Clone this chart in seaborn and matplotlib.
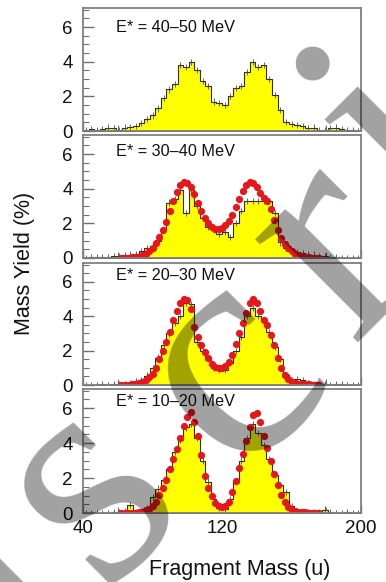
import numpy as np
import pandas as pd
import matplotlib
matplotlib.use("Agg")
import matplotlib.pyplot as plt
import seaborn as sns
from matplotlib.ticker import MultipleLocator, FixedLocator

sns.set_theme(style="white")
plt.rcParams['font.family'] = ['Liberation Sans', 'DejaVu Sans']

# ---- data -------------------------------------------------------------
energy_labels = ["E* = 40\u201350 MeV", "E* = 30\u201340 MeV",
                 "E* = 20\u201330 MeV", "E* = 10\u201320 MeV"]

# measured mass distributions, 50 bins of 3.2 u between 40 and 200 u
mass_edges = np.linspace(40, 200, 51)
yield_40_50 = [0.05, 0.1, 0.05, 0.1, 0.2, 0.15, 0.05, 0.2, 0.25, 0.3,
               0.45, 0.7, 0.9, 1.3, 1.9, 2.4, 2.7, 3.8, 3.7, 4.0,
               3.5, 2.9, 2.6, 1.7, 1.6, 1.5, 2.0, 2.5, 2.6, 3.4,
               4.0, 3.7, 3.8, 3.0, 2.1, 1.2, 0.5, 0.4, 0.35, 0.3,
               0.15, 0.2, 0.05, 0.05, 0.15, 0.2, 0.1, 0.05, 0.05, 0.02]
yield_30_40 = [0.02, 0.05, 0.05, 0.05, 0.05, 0.1, 0.1, 0.15, 0.2, 0.25,
               0.4, 0.55, 0.7, 1.0, 1.6, 3.2, 3.4, 3.9, 2.6, 3.9,
               3.0, 2.3, 1.8, 1.6, 1.4, 1.5, 1.2, 2.0, 2.7, 3.3,
               3.3, 3.3, 3.3, 3.3, 2.6, 0.9, 0.6, 0.4, 0.35, 0.3,
               0.2, 0.2, 0.1, 0.1, 0.05, 0.05, 0.02, 0.02, 0.02, 0.02]
yield_20_30 = [0.02, 0.02, 0.02, 0.05, 0.02, 0.05, 0.05, 0.05, 0.1, 0.2,
               0.3, 0.55, 1.0, 1.6, 2.3, 3.0, 3.6, 4.0, 4.8, 4.7,
               2.5, 2.0, 1.5, 1.0, 0.85, 0.9, 1.3, 2.0, 2.8, 4.0,
               4.5, 4.0, 3.8, 3.1, 2.2, 1.5, 0.6, 0.3, 0.35, 0.3,
               0.1, 0.05, 0.05, 0.05, 0.02, 0.05, 0.05, 0.02, 0.02, 0.02]
yield_10_20 = [0.02, 0.02, 0.02, 0.02, 0.02, 0.05, 0.05, 0.1, 0.45, 0.05,
               0.1, 0.3, 0.9, 1.4, 1.9, 2.5, 3.5, 4.2, 4.9, 5.1,
               4.3, 3.0, 1.8, 0.8, 0.3, 0.25, 0.8, 1.8, 3.0, 4.3,
               5.1, 4.6, 3.9, 3.1, 2.2, 1.6, 1.2, 0.4, 0.1, 0.05,
               0.05, 0.05, 0.05, 0.2, 0.05, 0.02, 0.02, 0.05, 0.02, 0.02]
measured = [yield_40_50, yield_30_40, yield_20_30, yield_10_20]

# calculated mass distributions, every 2 u from 62 to 176 u
model_mass = np.arange(62, 177, 2)
model_30_40 = [0.0, 0.0, 0.02, 0.03, 0.05, 0.08, 0.15, 0.25, 0.4, 0.6,
               0.85, 1.2, 1.6, 2.1, 2.7, 3.3, 3.8, 4.2, 4.4, 4.35,
               4.1, 3.7, 3.2, 2.7, 2.3, 2.0, 1.8, 1.7, 1.7, 1.75,
               1.9, 2.15, 2.5, 2.95, 3.4, 3.85, 4.2, 4.4, 4.35, 4.1,
               3.75, 3.45, 3.3, 2.8, 2.2, 1.6, 1.15, 0.8, 0.55, 0.4,
               0.25, 0.15, 0.1, 0.06, 0.04, 0.02, 0.01, 0.0]
model_20_30 = [0.0, 0.01, 0.02, 0.03, 0.06, 0.1, 0.18, 0.3, 0.45, 0.65,
               1.0, 1.5, 2.0, 2.5, 3.1, 3.8, 4.3, 4.8, 5.0, 4.95,
               4.4, 3.4, 2.8, 2.3, 1.9, 1.6, 1.2, 1.05, 1.0, 1.0,
               1.1, 1.35, 1.75, 2.4, 3.0, 3.6, 4.2, 4.8, 5.0, 4.8,
               4.3, 3.8, 3.5, 2.9, 2.3, 1.6, 1.0, 0.6, 0.35, 0.2,
               0.12, 0.08, 0.05, 0.04, 0.03, 0.02, 0.02, 0.01]
model_10_20 = [0.0, 0.0, 0.0, 0.01, 0.02, 0.04, 0.08, 0.15, 0.25, 0.4,
               0.65, 1.05, 1.45, 1.9, 2.5, 3.1, 3.65, 4.3, 5.0, 5.5,
               5.8, 5.2, 4.4, 3.3, 2.1, 1.45, 1.0, 0.6, 0.42, 0.35,
               0.4, 0.65, 1.2, 1.85, 2.6, 3.4, 4.1, 4.9, 5.6, 5.7,
               5.2, 4.4, 3.7, 3.0, 2.25, 1.6, 1.05, 0.65, 0.35, 0.2,
               0.12, 0.08, 0.05, 0.03, 0.02, 0.02, 0.01, 0.01]
calculated = [None, model_30_40, model_20_30, model_10_20]

x_ticks = [40, 120, 200]
y_ticks = [0, 2, 4, 6]

# ---- layout -----------------------------------------------------------
W, H = 386, 582
fig = plt.figure(figsize=(W / 100, H / 100), dpi=100)
panel_px = [(8, 131), (135, 258), (263, 385), (389, 513)]
label_off_px = [24, 21, 17, 17]
left_px, right_px = 83, 361

frame_col = "#808080"
mass_centers = 0.5 * (mass_edges[:-1] + mass_edges[1:])

for i, (top, bot) in enumerate(panel_px):
    ax = fig.add_axes([left_px / W, 1 - bot / H,
                       (right_px - left_px) / W, (bot - top) / H])
    hist_df = pd.DataFrame({"mass": mass_centers, "yield": measured[i]})
    sns.histplot(data=hist_df, x="mass", weights="yield",
                 bins=list(mass_edges), element="step", fill=True,
                 color="#ffff00", alpha=1.0, edgecolor="#2e2e24",
                 linewidth=0.8, ax=ax)
    ax.errorbar(mass_centers, measured[i], yerr=0.18, fmt="none",
                ecolor="#4a4a4a", elinewidth=0.6, zorder=3)
    if calculated[i] is not None:
        ax.errorbar(model_mass, calculated[i], xerr=1.0, yerr=0.12,
                    fmt="o", ms=4.2, mfc="#e8161a", mec="#e8161a",
                    ecolor="#e8161a", elinewidth=1.0, capsize=0, zorder=4)

    ax.set_xlim(40, 200)
    ax.set_ylim(0, 7.1)
    ax.set_xlabel("")
    ax.set_ylabel("")
    ax.xaxis.set_major_locator(FixedLocator(x_ticks))
    ax.xaxis.set_minor_locator(MultipleLocator(20))
    ax.yaxis.set_major_locator(FixedLocator(y_ticks))
    ax.yaxis.set_minor_locator(MultipleLocator(0.5))
    ax.tick_params(axis="y", which="major", direction="in", length=8,
                   width=1.0, color="#707070", left=True, right=False,
                   labelsize=13.5, pad=7.5, labelcolor="#111111")
    ax.tick_params(axis="y", which="minor", direction="in", length=4,
                   width=0.8, color="#707070", left=True, right=False)
    ax.tick_params(axis="x", which="major", direction="in", length=6,
                   width=1.0, color="#707070", bottom=True, top=False,
                   labelsize=13.5, pad=5, labelcolor="#111111",
                   labelbottom=(i == 3))
    ax.tick_params(axis="x", which="minor", direction="in", length=4,
                   width=0.8, color="#707070", bottom=True, top=False)
    for sp in ax.spines.values():
        sp.set_color(frame_col)
        sp.set_linewidth(1.3)
        sp.set_zorder(6)
    ax.text(0.118, 1 - label_off_px[i] / (bot - top), energy_labels[i],
            transform=ax.transAxes, fontsize=11.7, ha="left",
            va="baseline", color="#111111", zorder=7)

fig.text(25 / W, 1 - 263 / H, "Mass Yield (%)", rotation=90,
         ha="center", va="center", fontsize=15.5, color="#111111")
fig.text(240 / W, 1 - 569 / H, "Fragment Mass (u)", ha="center",
         va="center", fontsize=15.5, color="#111111")

# large translucent overlay letters laid along the diagonal
overlay_letters = ["u", "s", "c", "r", "i"]
overlay_px = [(-35, 600), (90, 490), (232, 370), (335, 250), (395, 140)]
for ch, (px, py) in zip(overlay_letters, overlay_px):
    fig.text(px / W, 1 - py / H, ch, rotation=45, ha="center",
             va="center", fontsize=230, fontweight="normal",
             family=["Liberation Serif", "DejaVu Serif"],
             color=(0, 0, 0, 0.37), zorder=20)

fig.savefig("out.png", dpi=100)
